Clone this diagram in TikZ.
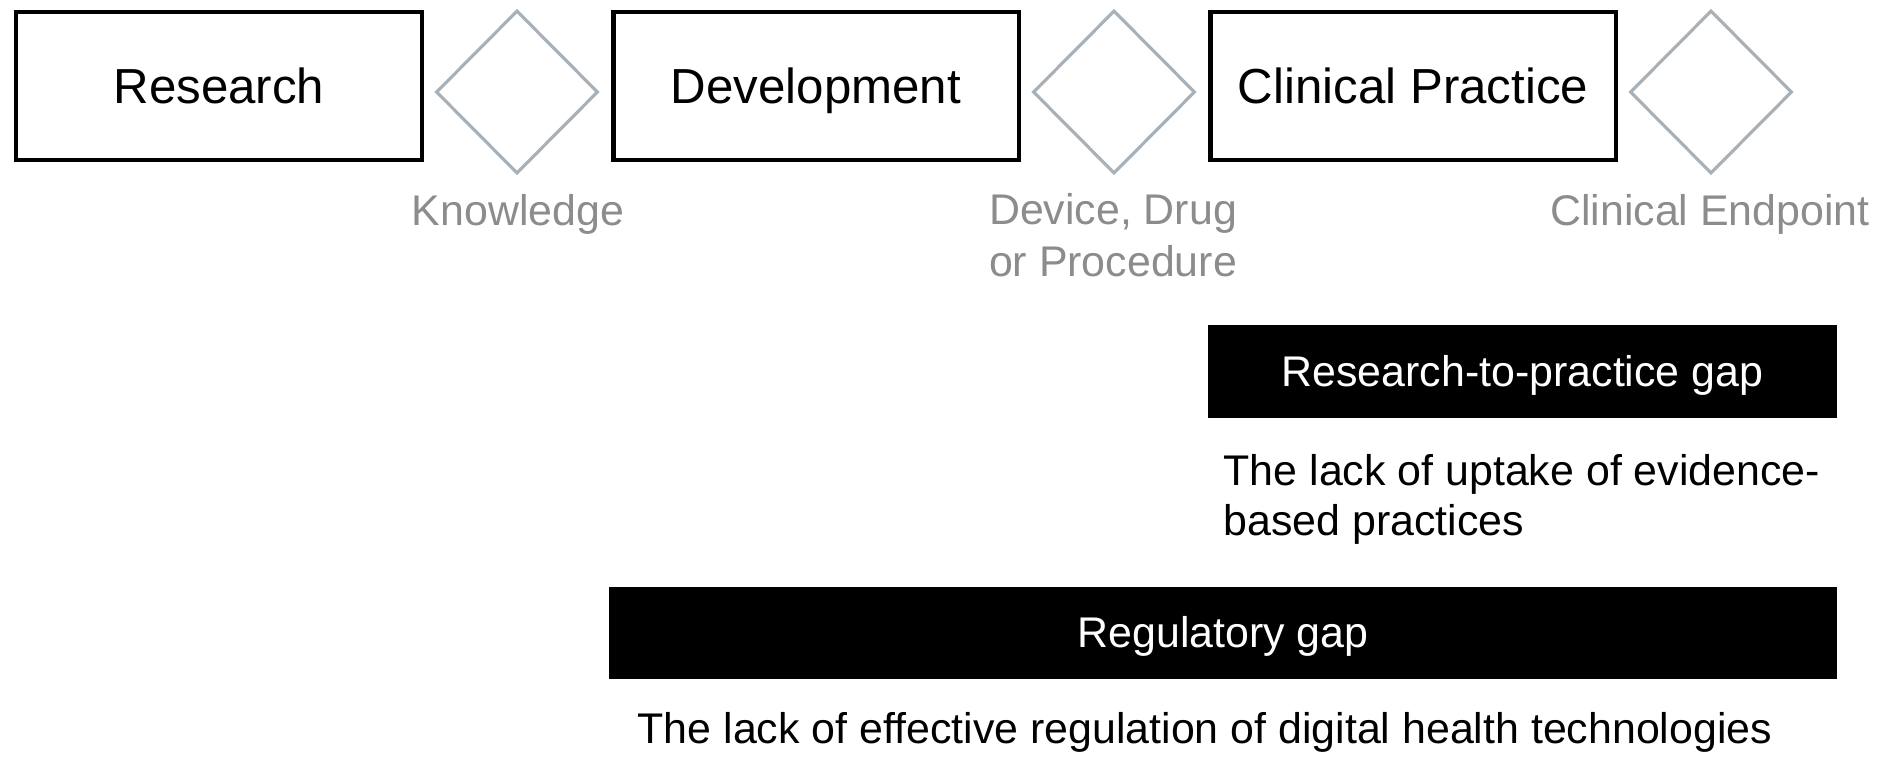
\documentclass[tikz,border=0pt]{standalone}
\usepackage{fontspec}
\setmainfont{Liberation Sans}
\usetikzlibrary{shapes.geometric}

\definecolor{diamondgray}{HTML}{A9B1B8}
\definecolor{labelgray}{HTML}{8C8C8C}

\begin{document}
\begin{tikzpicture}
[x=0.01cm, y=-0.01cm,
 stage/.style={draw, line width=1.2pt, minimum width=4.05cm, minimum height=1.48cm,
   inner sep=0pt, text height=10pt, text depth=0pt, font=\fontsize{14}{17}\selectfont},
 outcome/.style={diamond, draw=diamondgray, line width=0.9pt, minimum width=1.62cm,
   minimum height=1.63cm, inner sep=0pt},
 outlabel/.style={text=labelgray, font=\fontsize{12.2}{14.7}\selectfont, align=center,
   anchor=base, inner sep=0pt},
 gapbar/.style={fill=black, text=white, inner sep=0pt, minimum height=0.92cm,
   text height=8.6pt, text depth=0pt, font=\fontsize{12.2}{14.5}\selectfont},
 gapnote/.style={font=\fontsize{12.2}{14.2}\selectfont, align=left, anchor=base west,
   inner sep=0pt}]

  \useasboundingbox (0,0) rectangle (1885,756);

  % stages along the top, each one followed by what it hands on
  \foreach \i/\x/\txt in {1/219/Research, 2/816/Development, 3/1413/Clinical Practice}
  {
    \node[stage] (stage\i) at (\x,86) {\txt};
    \node[outcome] (out\i) at (\x+298,92) {};
  }

  % base of a two-line node sits on its last line
  \node[outlabel] (outlbl1) at (518,225) {Knowledge};
  \node[outlabel] (outlbl2) at (1113,276) {Device, Drug\\or Procedure};
  \node[outlabel] (outlbl3) at (1710,225) {Clinical Endpoint};

  % the two gaps and what they mean
  \node[gapbar, minimum width=6.29cm] (rtp) at (1522.5,371.5) {Research-to-practice gap};
  \node[gapnote] (rtpnote) at (1223,535) {The lack of uptake of evidence-\\based practices};

  \node[gapbar, minimum width=12.28cm] (reg) at (1223,632.5) {Regulatory gap};
  \node[gapnote, anchor=base] (regnote) at (1205,743)
    {The lack of effective regulation of digital health technologies};
\end{tikzpicture}
\end{document}
